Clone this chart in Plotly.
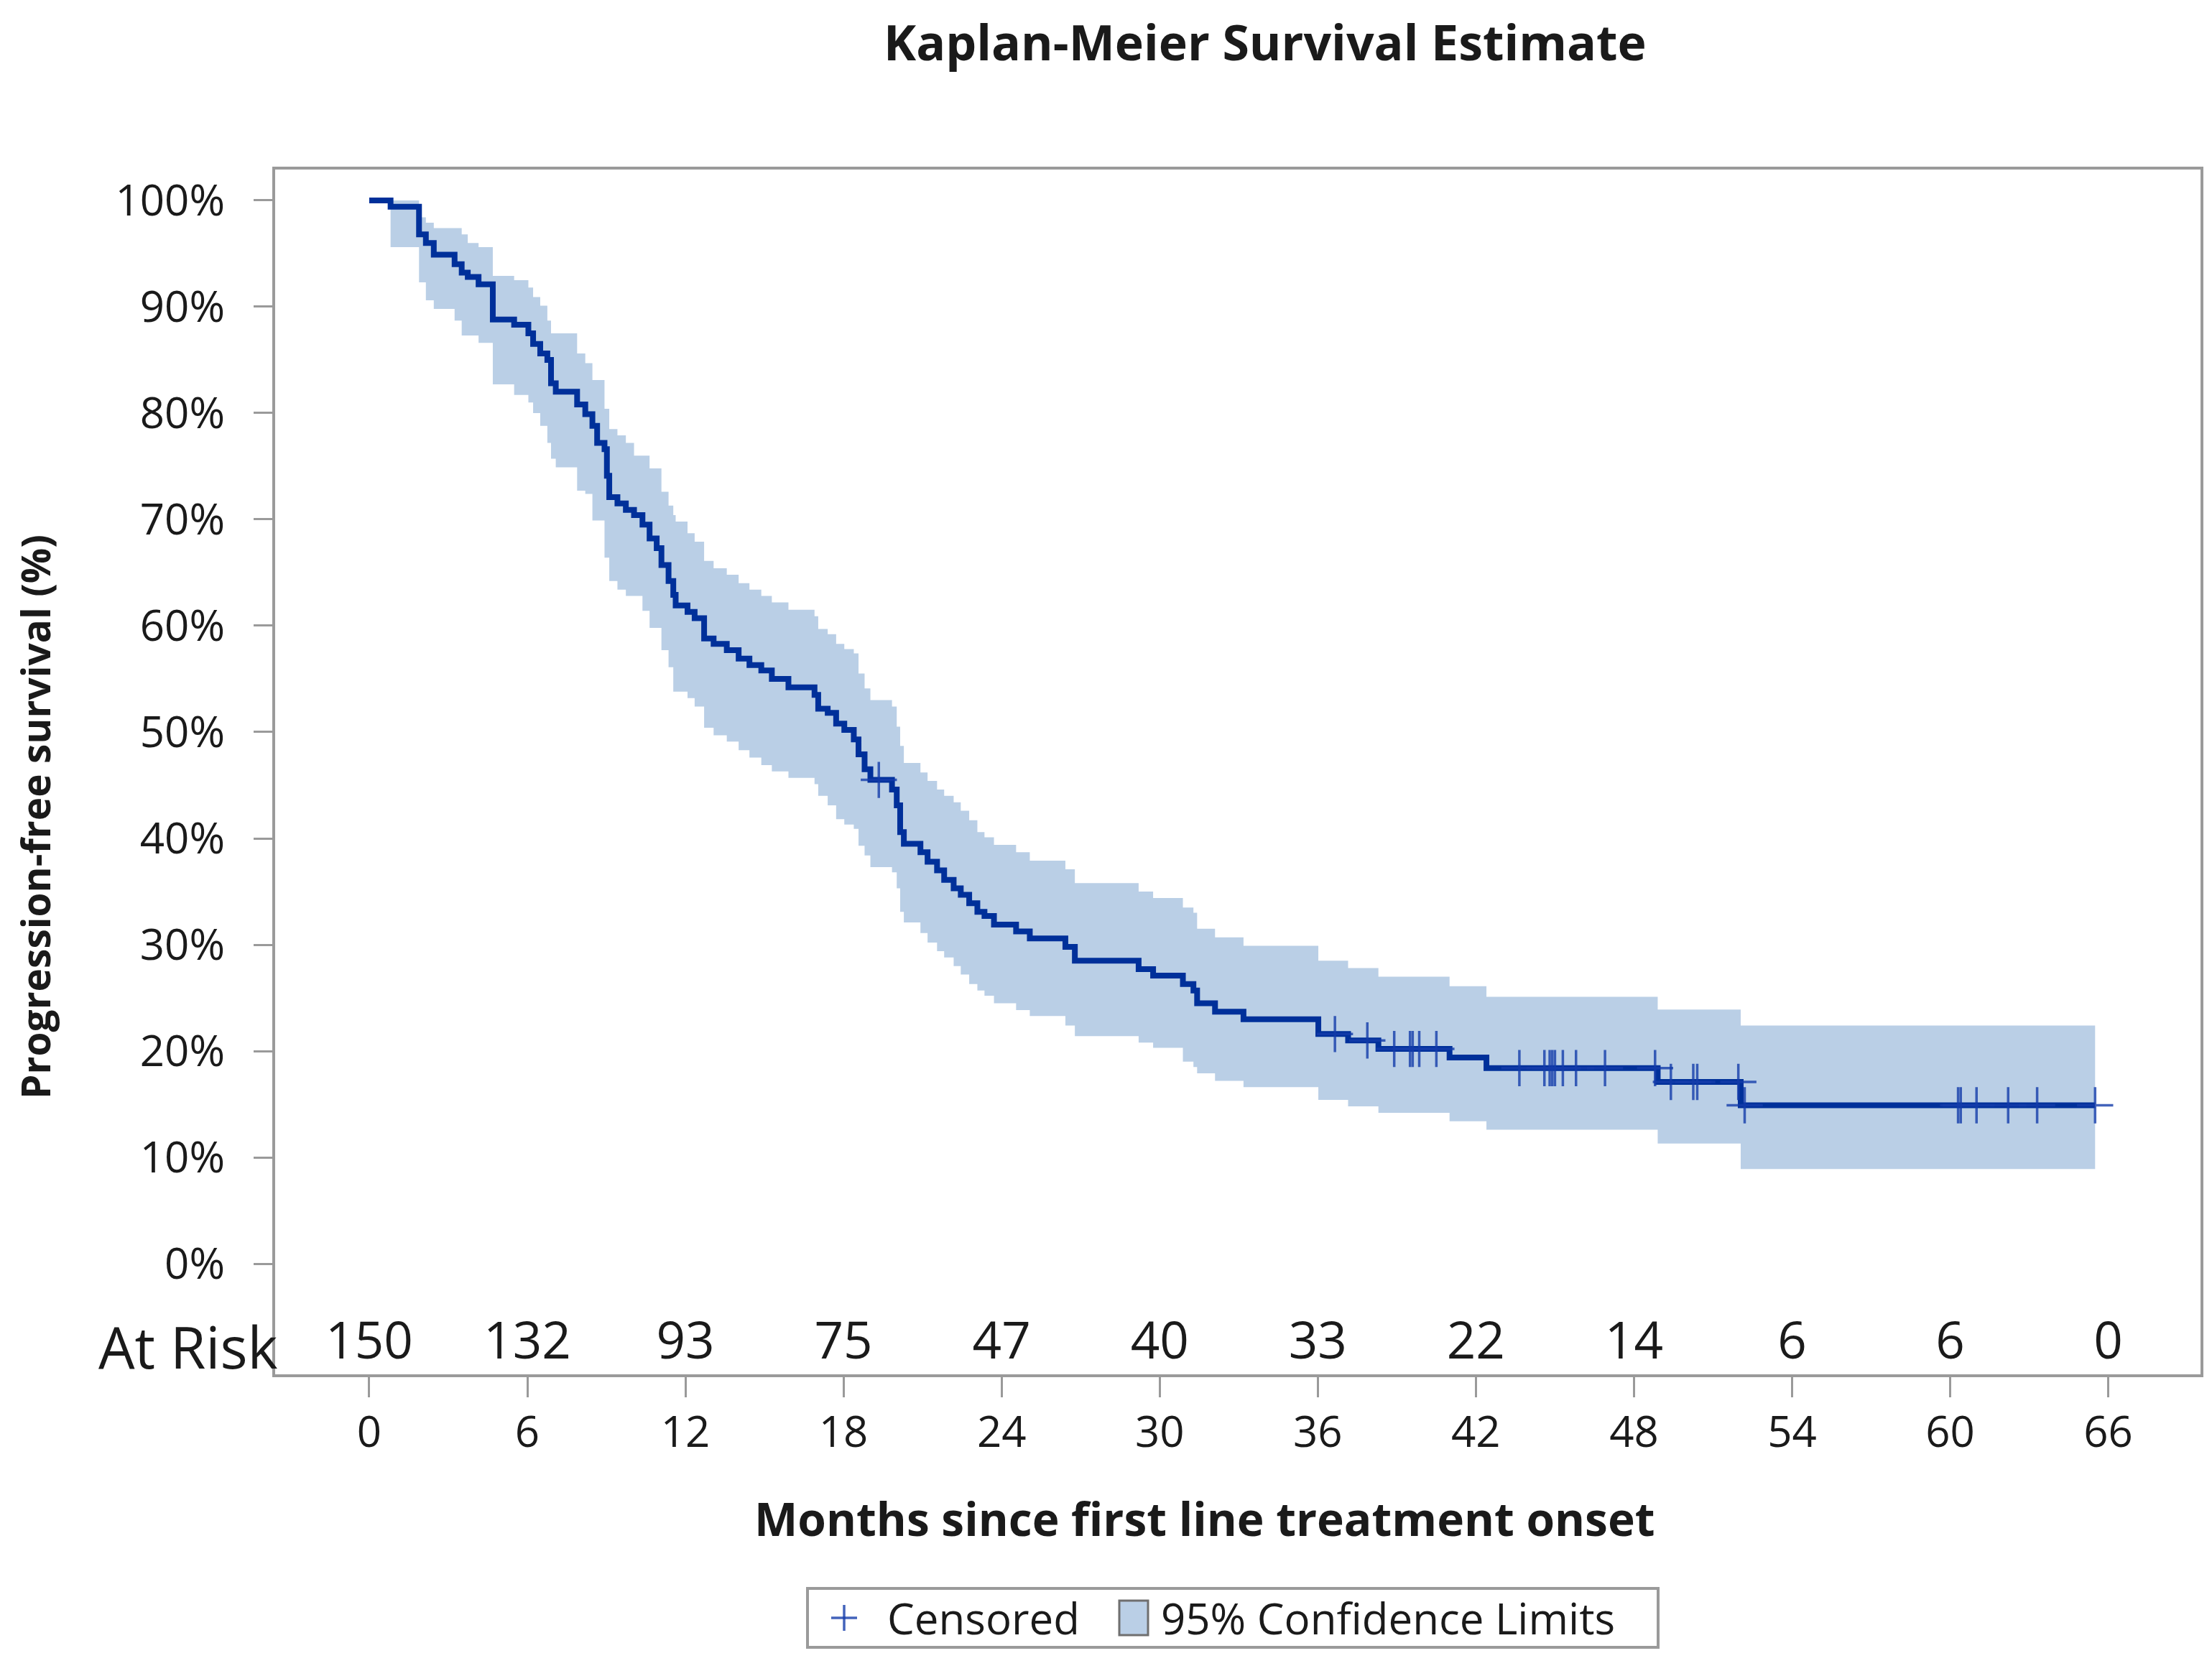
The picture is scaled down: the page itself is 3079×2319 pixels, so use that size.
import numpy as np
import plotly.graph_objects as go

# ---------------- data ----------------
months = [0, 0.81, 1.89, 2.15, 2.45, 3.24, 3.51, 3.74, 4.15, 4.69, 5.50, 6.04, 6.22, 6.49,
          6.76, 6.90, 7.08, 7.89, 8.20, 8.47, 8.65, 8.93, 9.02, 9.11, 9.42, 9.74, 10.05,
          10.37, 10.64, 10.91, 11.09, 11.36, 11.54, 11.63,
          12.08, 12.35, 12.71, 13.07, 13.57, 14.02, 14.43, 14.88, 15.28, 15.91, 16.90,
          17.04, 17.40, 17.72, 18.03, 18.39, 18.57, 18.80, 19.02, 19.84, 20.02, 20.15,
          20.29, 20.92, 21.19, 21.55, 21.82, 22.18, 22.45, 22.77, 23.08, 23.35, 23.71,
          24.55, 25.07, 26.42, 26.78, 29.20, 29.75, 30.88, 31.28, 31.42, 32.10, 33.18,
          36.02, 37.15, 38.30, 41.00, 42.40, 48.90, 52.05]
survival = [100, 99.4, 96.8, 96.0, 94.9, 94.0, 93.2, 92.8, 92.1, 88.8, 88.3, 87.5, 86.5, 85.6,
            85.0, 82.8, 82.0, 80.8, 79.9, 78.8, 77.2, 76.6, 74.1, 72.1, 71.5, 70.9, 70.4,
            69.5, 68.2, 67.3, 65.7, 64.2, 62.9, 61.9,
            61.3, 60.7, 58.8, 58.3, 57.7, 56.9, 56.3, 55.8, 55.0, 54.2, 53.5,
            52.2, 51.8, 50.8, 50.2, 49.3, 47.9, 46.5, 45.5, 44.6, 43.1, 40.6,
            39.5, 38.7, 37.8, 37.0, 36.1, 35.3, 34.7, 33.9, 33.1, 32.7, 31.9,
            31.25, 30.6, 29.8, 28.5, 27.7, 27.1, 26.3, 25.7, 24.5, 23.7, 23.0,
            21.6, 21.0, 20.2, 19.4, 18.4, 17.1, 14.9]
lower_cl = [100, 95.6, 92.3, 90.6, 89.8, 88.7, 87.3, 87.3, 86.6, 82.7, 81.7, 81.0, 80.0, 78.8,
            77.2, 75.7, 74.9, 72.7, 72.4, 69.9, 69.9, 66.4, 66.4, 64.2, 63.4, 62.8, 62.8,
            61.4, 59.8, 59.8, 57.7, 56.1, 53.8, 53.8,
            53.2, 52.4, 50.4, 49.7, 49.1, 48.3, 47.6, 46.9, 46.3, 45.7, 45.1,
            44.0, 43.1, 41.8, 41.3, 40.9, 39.3, 38.4, 37.3, 36.8, 35.3, 33.1,
            32.1, 31.1, 30.2, 29.4, 28.8, 28.0, 27.2, 26.3, 25.7, 25.2, 24.5,
            23.85, 23.3, 22.4, 21.4, 20.8, 20.3, 19.0, 18.5, 17.9, 17.2, 16.6,
            15.4, 14.8, 14.2, 13.4, 12.6, 11.3, 8.9]
upper_cl = [100, 100, 98.4, 97.9, 97.4, 97.4, 96.8, 96.0, 95.6, 92.9, 92.5, 91.8, 90.9, 90.1,
            88.7, 87.5, 87.5, 85.6, 84.7, 83.1, 83.1, 80.4, 80.4, 78.5, 77.9, 77.2, 76.0,
            76.0, 74.8, 74.8, 72.6, 71.3, 70.4, 69.8,
            68.7, 67.9, 66.1, 65.4, 64.8, 64.0, 63.4, 62.8, 62.2, 61.5, 60.9,
            59.7, 59.2, 58.3, 57.8, 57.4, 55.5, 54.1, 53.0, 52.4, 50.5, 48.7,
            47.1, 46.2, 45.4, 44.6, 44.0, 43.4, 42.6, 41.7, 40.6, 40.1, 39.4,
            38.7, 37.9, 37.1, 35.8, 35.0, 34.4, 33.5, 33.0, 31.5, 30.7, 29.9,
            28.5, 27.8, 27.0, 26.1, 25.1, 23.9, 22.4]
last_month = 65.5
censor_months = [19.34, 36.65, 37.88, 38.9, 39.5, 39.6, 39.85, 40.5, 43.65, 44.6, 44.8,
                 44.9, 45.0, 45.3, 45.8, 46.9, 48.8, 49.4, 50.25, 50.4, 51.96, 52.2,
                 60.3, 60.4, 61.0, 62.2, 63.3, 65.5]
risk_months = [0, 6, 12, 18, 24, 30, 36, 42, 48, 54, 60, 66]
at_risk = [150, 132, 93, 75, 47, 40, 33, 22, 14, 6, 6, 0]
pct_ticks = [0, 10, 20, 30, 40, 50, 60, 70, 80, 90, 100]
pct_labels = [f"{v}%" for v in pct_ticks]
legend_labels = ["Censored", "95% Confidence Limits"]

# ---------------- styling ----------------
W, H = 3079, 2319
L, R, T, B = 375, 3055, 228, 1905
FONT = "Open Sans"
TXT = "#1a1a1a"
FRAME = "#9a9a9a"
CURVE = "#00309a"
BAND = "#bacfe6"
CENS = "rgba(20,60,170,0.8)"

xs = months + [last_month]
s_y = survival + [survival[-1]]
lo_y = lower_cl + [lower_cl[-1]]
up_y = upper_cl + [upper_cl[-1]]

idx = np.searchsorted(np.array(months), np.array(censor_months), side="right") - 1
censor_y = [survival[i] for i in idx]

fig = go.Figure()
fig.add_trace(go.Scatter(x=xs, y=lo_y, mode="lines", line=dict(width=0, shape="hv"),
                         showlegend=False, hoverinfo="skip"))
fig.add_trace(go.Scatter(x=xs, y=up_y, mode="lines", line=dict(width=0, shape="hv"),
                         fill="tonexty", fillcolor=BAND, showlegend=False,
                         name=legend_labels[1]))
fig.add_trace(go.Scatter(x=xs, y=s_y, mode="lines", line=dict(width=8, color=CURVE, shape="hv"),
                         showlegend=False))
fig.add_trace(go.Scatter(x=censor_months, y=censor_y, mode="markers", showlegend=False,
                         name=legend_labels[0],
                         marker=dict(symbol="cross-thin", size=36,
                                     line=dict(width=3.5, color=CENS))))
fig.add_trace(go.Scatter(x=risk_months, y=[-7.7] * len(risk_months), mode="text",
                         text=[str(v) for v in at_risk], showlegend=False,
                         textfont=dict(family=FONT, size=71, color=TXT)))

pw, ph = R - L, B - T
def px(X):
    return (X - L) / pw
def py(Y):
    return (B - Y) / ph

# manual legend (paper coordinates) -------------------------------------
LG_L, LG_R, LG_T, LG_B = 1116, 2300, 2203, 2285
lg_cy = (LG_T + LG_B) / 2
shapes = [
    dict(type="rect", xref="paper", yref="paper", x0=px(LG_L), x1=px(LG_R), y0=py(LG_B),
         y1=py(LG_T), line=dict(color=FRAME, width=4), fillcolor="white", layer="above"),
    dict(type="line", xref="paper", yref="paper", x0=px(1167 - 18), x1=px(1167 + 18),
         y0=py(lg_cy), y1=py(lg_cy), line=dict(color=CENS, width=3.5)),
    dict(type="line", xref="paper", yref="paper", x0=px(1167), x1=px(1167),
         y0=py(lg_cy - 18), y1=py(lg_cy + 18), line=dict(color=CENS, width=3.5)),
    dict(type="rect", xref="paper", yref="paper", x0=px(1550), x1=px(1590),
         y0=py(lg_cy + 24), y1=py(lg_cy - 24), fillcolor=BAND,
         line=dict(color="#6f6f6f", width=3)),
]

fig.update_layout(
    width=W, height=H,
    margin=dict(l=L, r=W - R, t=T, b=H - B),
    paper_bgcolor="white", plot_bgcolor="white",
    showlegend=False,
    font=dict(family=FONT, color=TXT),
    xaxis=dict(range=[-3.57, 69.5], tickvals=risk_months, ticks="outside", ticklen=28,
               tickwidth=3, tickcolor=FRAME, showline=True, linecolor=FRAME, linewidth=4,
               mirror=True, showgrid=False, zeroline=False,
               tickfont=dict(size=60, family=FONT, color=TXT), ticklabelstandoff=-3),
    yaxis=dict(range=[-10.4, 102.9], tickvals=pct_ticks, ticktext=pct_labels, ticks="outside",
               ticklen=26, tickwidth=3, tickcolor=FRAME, showline=True, linecolor=FRAME,
               linewidth=4, mirror=True, showgrid=False, zeroline=False,
               tickfont=dict(size=60, family=FONT, color=TXT), ticklabelstandoff=28),
    shapes=shapes,
    annotations=[
        dict(text="<b>Kaplan-Meier Survival Estimate</b>", xref="paper", yref="paper",
             x=px(1753), y=py(50), xanchor="center", yanchor="middle", showarrow=False,
             font=dict(size=68, family=FONT, color=TXT)),
        dict(text="<b>Months since first line treatment onset</b>", xref="paper", yref="paper",
             x=px(1669), y=py(2105), xanchor="center", yanchor="middle", showarrow=False,
             font=dict(size=64, family=FONT, color=TXT)),
        dict(text="<b>Progression-free survival (%)</b>", xref="paper", yref="paper",
             x=px(40), y=py(1129), xanchor="center", yanchor="middle", showarrow=False,
             textangle=-90, font=dict(size=55, family=FONT, color=TXT)),
        dict(text="At Risk", xref="paper", yref="y", x=px(381), y=-7.7, xanchor="right",
             yanchor="middle", showarrow=False, font=dict(size=80, family=FONT, color=TXT)),
        dict(text=legend_labels[0], xref="paper", yref="paper", x=px(1225), y=py(lg_cy),
             xanchor="left", yanchor="middle", showarrow=False,
             font=dict(size=60, family=FONT, color=TXT)),
        dict(text=legend_labels[1], xref="paper", yref="paper", x=px(1606), y=py(lg_cy),
             xanchor="left", yanchor="middle", showarrow=False,
             font=dict(size=60, family=FONT, color=TXT)),
    ],
)

fig.write_html("out.html")
